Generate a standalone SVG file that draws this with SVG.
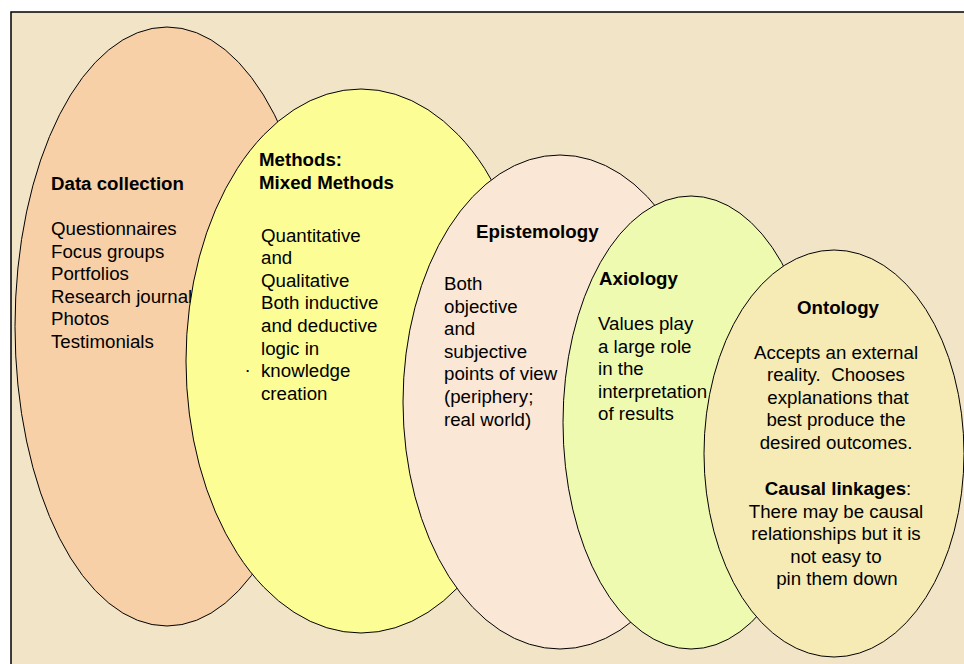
<svg xmlns="http://www.w3.org/2000/svg" width="964" height="664" viewBox="0 0 964 664">
  <style>
    .oval { stroke: #000; stroke-width: 1; }
    text { font-family: "Liberation Sans", Arial, sans-serif; font-size: 18.7px; fill: #000; }
    .b { font-weight: bold; }
    .c { text-anchor: middle; }
  </style>
  <rect x="0" y="0" width="964" height="664" fill="#fff"/>
  <!-- panel -->
  <rect x="11" y="12" width="975" height="680" fill="#F2E4C6" stroke="#000" stroke-width="1.5"/>

  <g id="data-collection">
    <ellipse class="oval" cx="167" cy="326.5" rx="152" ry="299.5" fill="#F7D0A8"/>
    <text class="b" x="51" y="190">Data collection</text>
    <text x="51" y="235">Questionnaires</text>
    <text x="51" y="257.6">Focus groups</text>
    <text x="51" y="280.2">Portfolios</text>
    <text x="51" y="302.8">Research journal</text>
    <text x="51" y="325.4">Photos</text>
    <text x="51" y="348">Testimonials</text>
  </g>

  <g id="methods">
    <ellipse class="oval" cx="361" cy="361" rx="175" ry="272" fill="#FDFD96"/>
    <text class="b" x="259" y="166">Methods:</text>
    <text class="b" x="259" y="188.6">Mixed Methods</text>
    <text x="261" y="241.5">Quantitative</text>
    <text x="261" y="264.1">and</text>
    <text x="261" y="286.7">Qualitative</text>
    <text x="261" y="309.3">Both inductive</text>
    <text x="261" y="331.9">and deductive</text>
    <text x="261" y="354.5">logic in</text>
    <text x="261" y="377.1">knowledge</text>
    <text x="261" y="399.7">creation</text>
    <text x="245" y="372">.</text>
  </g>

  <g id="epistemology">
    <ellipse class="oval" cx="560" cy="402" rx="157" ry="247" fill="#FBE7D5"/>
    <text class="b" x="476" y="237.5">Epistemology</text>
    <text x="444" y="290">Both</text>
    <text x="444" y="312.6">objective</text>
    <text x="444" y="335.2">and</text>
    <text x="444" y="357.8">subjective</text>
    <text x="444" y="380.4">points of view</text>
    <text x="444" y="403">(periphery;</text>
    <text x="444" y="425.6">real world)</text>
  </g>

  <g id="axiology">
    <ellipse class="oval" cx="691" cy="422.5" rx="128" ry="226.5" fill="#EEFAAF"/>
    <text class="b" x="599" y="285">Axiology</text>
    <text x="598" y="330">Values play</text>
    <text x="598" y="352.6">a large role</text>
    <text x="598" y="375.2">in the</text>
    <text x="598" y="397.8">interpretation</text>
    <text x="598" y="420.4">of results</text>
  </g>

  <g id="ontology">
    <ellipse class="oval" cx="834" cy="453.5" rx="130" ry="203.5" fill="#F6EBB5"/>
    <text class="b c" x="838" y="313.5">Ontology</text>
    <text class="c" x="836" y="358.5">Accepts an external</text>
    <text class="c" x="836" y="381.1">reality.&#160; Chooses</text>
    <text class="c" x="838" y="403.7">explanations that</text>
    <text class="c" x="836" y="426.3">best produce the</text>
    <text class="c" x="836" y="448.9">desired outcomes.</text>
    <text class="c" x="838" y="495"><tspan class="b">Causal linkages</tspan>:</text>
    <text class="c" x="836" y="517.6">There may be causal</text>
    <text class="c" x="836" y="540.2">relationships but it is</text>
    <text class="c" x="836" y="562.8">not easy to</text>
    <text class="c" x="837" y="585.4">pin them down</text>
  </g>
</svg>
